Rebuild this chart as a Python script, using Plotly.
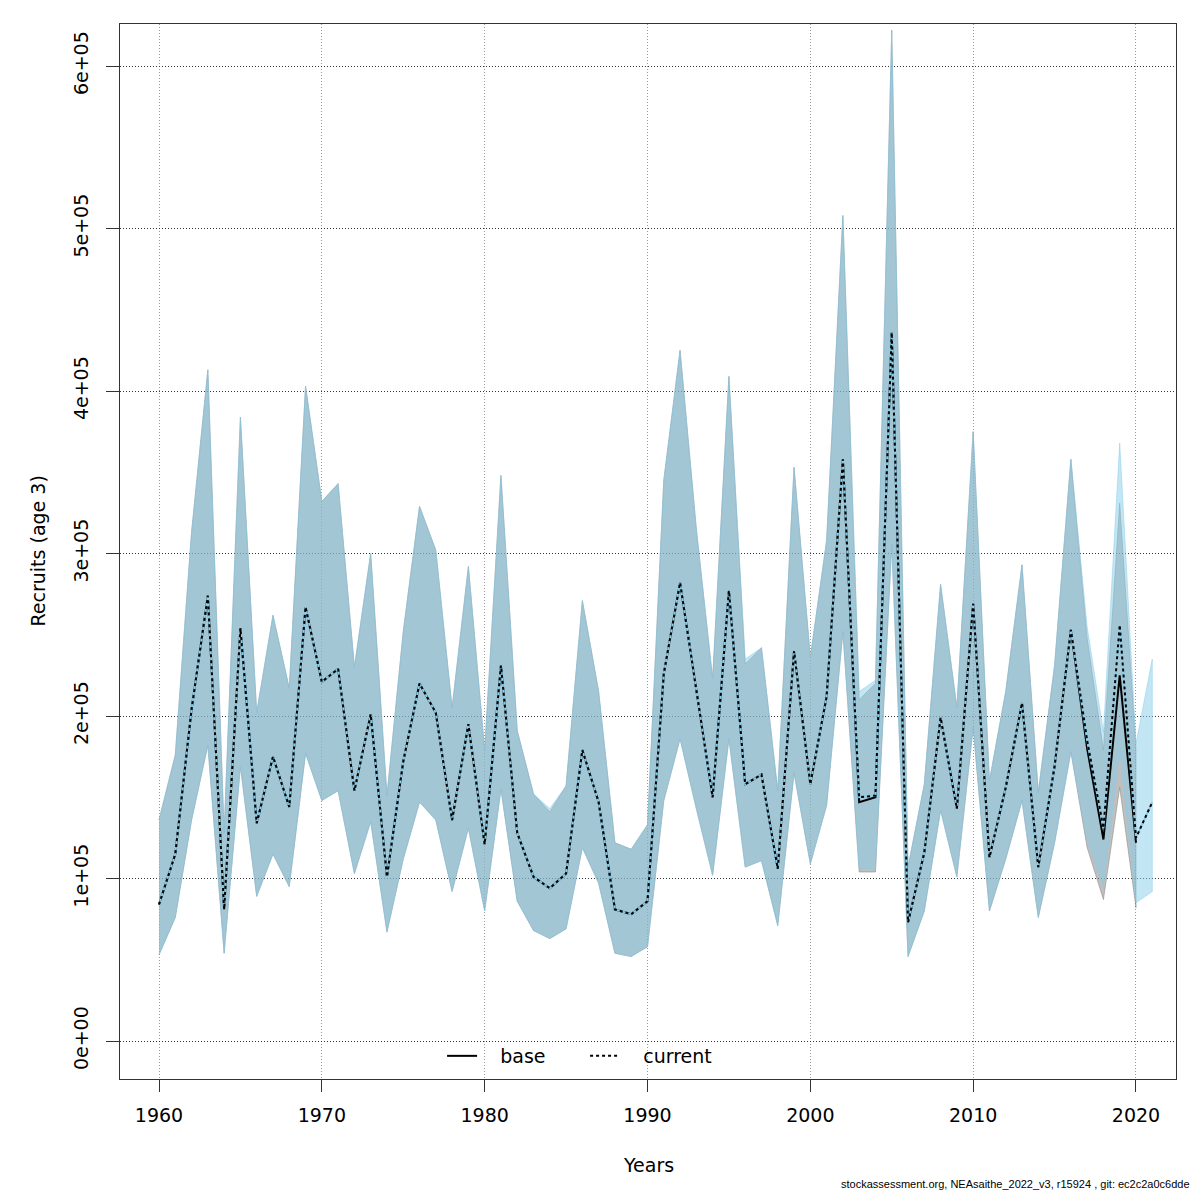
import plotly.graph_objects as go

# recruitment estimates (age 3), in units of 1e5 fish
years = list(range(1960, 2022))
base_years = list(range(1960, 2021))

cur_est = [0.84, 1.15, 2.04, 2.74, 0.81, 2.54, 1.34, 1.75, 1.44, 2.67,
           2.21, 2.29, 1.54, 2.01, 1.01, 1.72, 2.20, 2.02, 1.36, 1.95,
           1.21, 2.31, 1.28, 1.01, 0.94, 1.03, 1.79, 1.47, 0.81, 0.78,
           0.86, 2.26, 2.82, 2.17, 1.50, 2.77, 1.58, 1.64, 1.06, 2.40,
           1.58, 2.12, 3.58, 1.50, 1.51, 4.36, 0.73, 1.16, 1.99, 1.43,
           2.69, 1.13, 1.56, 2.08, 1.07, 1.69, 2.53, 1.85, 1.31, 2.56,
           1.25, 1.47]
cur_hi = [1.36, 1.76, 3.13, 4.13, 1.28, 3.84, 2.02, 2.62, 2.17, 4.03,
          3.32, 3.43, 2.30, 3.00, 1.51, 2.52, 3.29, 3.02, 2.05, 2.92,
          1.79, 3.48, 1.91, 1.52, 1.43, 1.57, 2.71, 2.15, 1.22, 1.18,
          1.33, 3.45, 4.25, 3.15, 2.23, 4.09, 2.35, 2.42, 1.54, 3.53,
          2.36, 3.08, 5.08, 2.15, 2.22, 6.22, 1.07, 1.58, 2.81, 2.05,
          3.75, 1.60, 2.15, 2.93, 1.53, 2.31, 3.58, 2.55, 1.90, 3.68,
          1.83, 2.35]
cur_lo = [0.53, 0.76, 1.36, 1.82, 0.54, 1.69, 0.89, 1.15, 0.95, 1.77,
          1.48, 1.54, 1.03, 1.35, 0.67, 1.12, 1.47, 1.36, 0.92, 1.31,
          0.80, 1.55, 0.86, 0.68, 0.63, 0.69, 1.19, 0.97, 0.54, 0.52,
          0.58, 1.48, 1.86, 1.43, 1.02, 1.86, 1.07, 1.11, 0.71, 1.65,
          1.09, 1.45, 2.52, 1.06, 1.06, 3.06, 0.52, 0.80, 1.42, 1.01,
          1.93, 0.80, 1.12, 1.48, 0.76, 1.22, 1.78, 1.24, 0.95, 1.79,
          0.85, 0.92]

base_est = [0.84, 1.15, 2.04, 2.74, 0.81, 2.54, 1.34, 1.75, 1.44, 2.67,
            2.21, 2.29, 1.54, 2.01, 1.01, 1.72, 2.20, 2.02, 1.36, 1.95,
            1.21, 2.31, 1.28, 1.01, 0.94, 1.03, 1.79, 1.47, 0.81, 0.78,
            0.86, 2.26, 2.82, 2.17, 1.50, 2.77, 1.58, 1.64, 1.06, 2.40,
            1.58, 2.12, 3.58, 1.47, 1.50, 4.36, 0.73, 1.16, 1.99, 1.43,
            2.69, 1.13, 1.56, 2.08, 1.07, 1.69, 2.53, 1.80, 1.24, 2.25,
            1.22]
base_hi = [1.36, 1.76, 3.13, 4.13, 1.28, 3.84, 2.02, 2.62, 2.17, 4.03,
           3.32, 3.43, 2.30, 3.00, 1.51, 2.52, 3.29, 3.02, 2.05, 2.92,
           1.79, 3.48, 1.91, 1.52, 1.41, 1.57, 2.71, 2.15, 1.22, 1.18,
           1.33, 3.45, 4.25, 3.15, 2.23, 4.09, 2.32, 2.42, 1.54, 3.53,
           2.36, 3.08, 5.08, 2.10, 2.20, 6.22, 1.07, 1.58, 2.81, 2.05,
           3.75, 1.60, 2.15, 2.93, 1.53, 2.31, 3.58, 2.48, 1.79, 3.31,
           1.80]
base_lo = [0.53, 0.76, 1.36, 1.82, 0.54, 1.69, 0.89, 1.15, 0.95, 1.77,
           1.48, 1.54, 1.03, 1.35, 0.67, 1.12, 1.47, 1.36, 0.92, 1.31,
           0.80, 1.55, 0.86, 0.68, 0.63, 0.69, 1.19, 0.97, 0.54, 0.52,
           0.58, 1.48, 1.86, 1.43, 1.02, 1.86, 1.07, 1.11, 0.71, 1.65,
           1.09, 1.45, 2.52, 1.04, 1.04, 3.06, 0.52, 0.80, 1.42, 1.01,
           1.93, 0.80, 1.12, 1.48, 0.76, 1.22, 1.78, 1.19, 0.87, 1.56,
           0.82]

yticks = [0, 1e5, 2e5, 3e5, 4e5, 5e5, 6e5]
ytick_text = ["0e+00", "1e+05", "2e+05", "3e+05", "4e+05", "5e+05", "6e+05"]
xticks = [1960, 1970, 1980, 1990, 2000, 2010, 2020]

S = 1e5
grey_band = "rgba(128,128,128,0.5)"
blue_band = "rgba(135,206,235,0.5)"

fig = go.Figure()

# confidence bands as closed polygons
fig.add_trace(go.Scatter(
    x=base_years + base_years[::-1],
    y=[v * S for v in base_hi] + [v * S for v in base_lo[::-1]],
    fill="toself", fillcolor=grey_band, mode="lines",
    line=dict(color=grey_band, width=1), showlegend=False, hoverinfo="skip"))
fig.add_trace(go.Scatter(
    x=years + years[::-1],
    y=[v * S for v in cur_hi] + [v * S for v in cur_lo[::-1]],
    fill="toself", fillcolor=blue_band, mode="lines",
    line=dict(color=blue_band, width=1), showlegend=False, hoverinfo="skip"))

fig.add_trace(go.Scatter(
    x=base_years, y=[v * S for v in base_est], mode="lines",
    name="\u00a0\u00a0\u00a0base",
    line=dict(color="black", width=2)))
fig.add_trace(go.Scatter(
    x=years, y=[v * S for v in cur_est], mode="lines", showlegend=False,
    line=dict(color="#87ceeb", width=2), hoverinfo="skip"))
fig.add_trace(go.Scatter(
    x=years, y=[v * S for v in cur_est], mode="lines",
    name="\u00a0\u00a0\u00a0current",
    line=dict(color="black", width=2, dash="dot")))

font = "DejaVu Sans, Verdana, sans-serif"

# the page body adds 8px, so the figure is 1184 px and margins are shifted
fig.update_layout(
    width=1184, height=1184,
    paper_bgcolor="white", plot_bgcolor="white",
    margin=dict(l=112, r=16, t=16, b=113),
    font=dict(family=font, size=19, color="black"),
    showlegend=True,
    legend=dict(orientation="h", x=0.305, xanchor="left", y=0.0218,
                yanchor="middle", bgcolor="rgba(0,0,0,0)", font=dict(size=19),
                entrywidth=98, entrywidthmode="pixels", tracegroupgap=0),
    xaxis=dict(range=[1957.605, 2022.457], tickvals=xticks, ticks="outside",
               ticklen=12, tickcolor="#333", showline=True, mirror=True,
               linecolor="#333", linewidth=1, zeroline=False,
               showgrid=True, gridcolor="#999", griddash="1px,2px", gridwidth=1,
               ticklabelstandoff=7),
    yaxis=dict(range=[-23385, 625846], tickvals=yticks, ticktext=ytick_text,
               tickangle=-90, ticks="outside", ticklen=13, tickcolor="#333",
               showline=True, mirror=True, linecolor="#333", linewidth=1,
               zeroline=False, showgrid=True, gridcolor="#333",
               griddash="1px,2px", gridwidth=1, ticklabelstandoff=10),
    annotations=[
        dict(text="Years", xref="paper", yref="paper", x=0.5, y=0,
             yshift=-86, showarrow=False, yanchor="middle",
             font=dict(size=19)),
        dict(text="Recruits (age 3)", xref="paper", yref="paper", x=0, y=0.5,
             xshift=-83, showarrow=False, textangle=-90, xanchor="center",
             font=dict(size=19)),
        dict(text="stockassessment.org, NEAsaithe_2022_v3, r15924 , git: ec2c2a0c6dde",
             xref="paper", yref="paper", x=1, y=0, xanchor="right",
             yanchor="bottom", xshift=16, yshift=-113, showarrow=False,
             font=dict(family="Liberation Sans Narrow, Liberation Sans, sans-serif",
                       size=11)),
    ],
)

fig.write_html("out.html")
